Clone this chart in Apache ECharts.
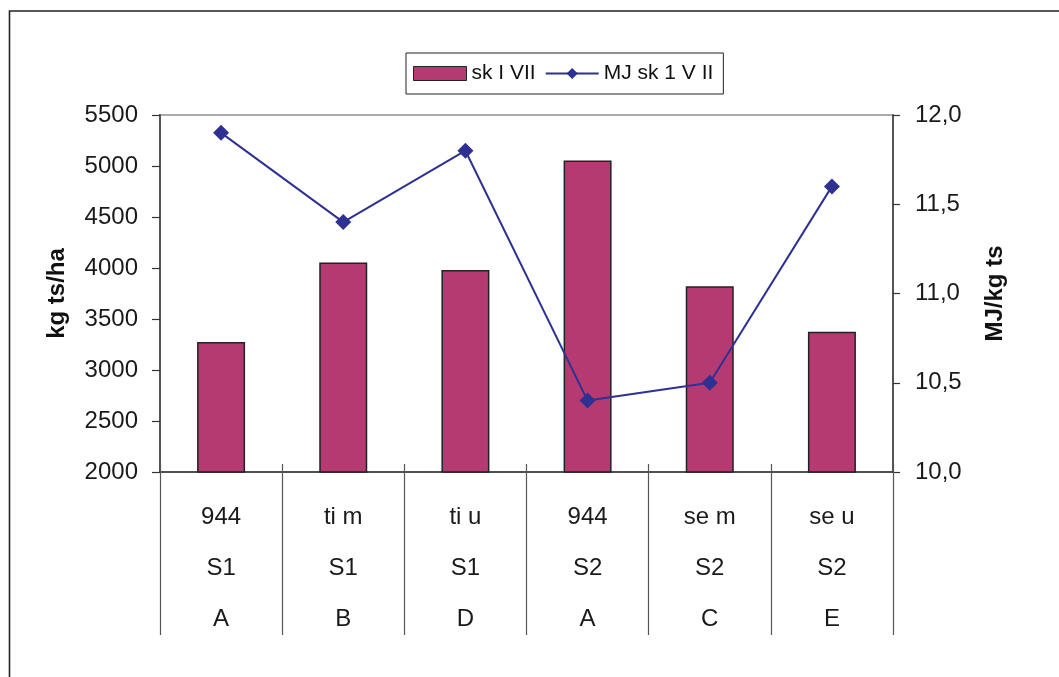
<!DOCTYPE html>
<html>
<head>
<meta charset="utf-8">
<script src="https://cdn.jsdelivr.net/npm/echarts@6/dist/echarts.min.js"></script>
<style>
html,body{margin:0;padding:0;background:#fff;}
#c{width:1059px;height:677px;}
</style>
</head>
<body>
<div id="c"></div>
<script>
const row1 = ['944', 'ti m', 'ti u', '944', 'se m', 'se u'];
const row2 = ['S1', 'S1', 'S1', 'S2', 'S2', 'S2'];
const row3 = ['A', 'B', 'D', 'A', 'C', 'E'];
const barValues = [3275, 4055, 3980, 5055, 3820, 3375];
const lineValues = [11.9, 11.4, 11.8, 10.4, 10.5, 11.6];
const barName = 'sk I VII';
const lineName = 'MJ sk 1 V II';

const categories = row1.map((v, i) => v + '\n' + row2[i] + '\n' + row3[i]);
const FONT = 'Liberation Sans, Arial, sans-serif';

const chart = echarts.init(document.getElementById('c'), null, {renderer: 'canvas'});
chart.setOption({
  animation: false,
  backgroundColor: '#fff',
  textStyle: {fontFamily: FONT},
  graphic: [{
    type: 'rect',
    shape: {x: 9.5, y: 11, width: 1200, height: 800},
    style: {fill: 'none', stroke: '#222', lineWidth: 1.6},
    silent: true
  }],
  legend: {
    left: 406, top: 53,
    padding: [10, 10, 10, 7],
    borderColor: '#222', borderWidth: 1,
    itemWidth: 53, itemHeight: 14, itemGap: 9,
    textStyle: {fontSize: 21, color: '#111', fontFamily: FONT},
    data: [
      {name: barName, icon: 'rect', itemStyle: {borderColor: '#222', borderWidth: 1}},
      {name: lineName}
    ]
  },
  grid: {
    left: 160, right: 166, top: 115, bottom: 205,
    show: true, borderColor: '#aaa', borderWidth: 2
  },
  xAxis: [{
    type: 'category',
    data: categories,
    boundaryGap: true,
    axisLine: {lineStyle: {color: '#333', width: 1.5}},
    axisTick: {show: true, length: 163, lineStyle: {color: '#555', width: 1.2}},
    axisLabel: {
      margin: 20, fontSize: 24, color: '#1a1a1a', lineHeight: 51, fontFamily: FONT
    }
  }, {
    type: 'category',
    position: 'bottom',
    data: categories,
    boundaryGap: true,
    axisLine: {show: false},
    axisTick: {show: true, inside: true, length: 8, lineStyle: {color: '#555', width: 1.2}},
    axisLabel: {show: false}
  }],
  yAxis: [{
    type: 'value', min: 2000, max: 5500, interval: 500,
    name: 'kg ts/ha', nameLocation: 'middle', nameGap: 91, nameRotate: 90,
    nameTextStyle: {fontSize: 24, fontWeight: 'bold', color: '#111', fontFamily: FONT},
    axisLine: {show: true, lineStyle: {color: '#555', width: 2}},
    axisTick: {show: true, length: 8, lineStyle: {color: '#333', width: 1.2}},
    axisLabel: {fontSize: 24, color: '#1a1a1a', margin: 22, fontFamily: FONT,
      formatter: v => String(v)},
    splitLine: {show: false}
  }, {
    type: 'value', min: 10, max: 12, interval: 0.5,
    name: 'MJ/kg ts', nameLocation: 'middle', nameGap: 90, nameRotate: 90,
    nameTextStyle: {fontSize: 24, fontWeight: 'bold', color: '#111', fontFamily: FONT},
    axisLine: {show: true, lineStyle: {color: '#555', width: 2}},
    axisTick: {show: true, length: 7, lineStyle: {color: '#333', width: 1.2}},
    axisLabel: {fontSize: 24, color: '#1a1a1a', margin: 22, fontFamily: FONT,
      formatter: v => v.toFixed(1).replace('.', ',')},
    splitLine: {show: false}
  }],
  series: [{
    name: barName,
    type: 'bar',
    xAxisIndex: 0,
    yAxisIndex: 0,
    data: barValues,
    barWidth: 48,
    itemStyle: {color: '#B53A72', borderColor: '#222', borderWidth: 1.5}
  }, {
    name: lineName,
    type: 'line',
    xAxisIndex: 0,
    yAxisIndex: 1,
    data: lineValues,
    symbol: 'diamond',
    symbolSize: 16,
    lineStyle: {color: '#2E3192', width: 2},
    itemStyle: {color: '#2E3192'}
  }]
});
</script>
</body>
</html>
